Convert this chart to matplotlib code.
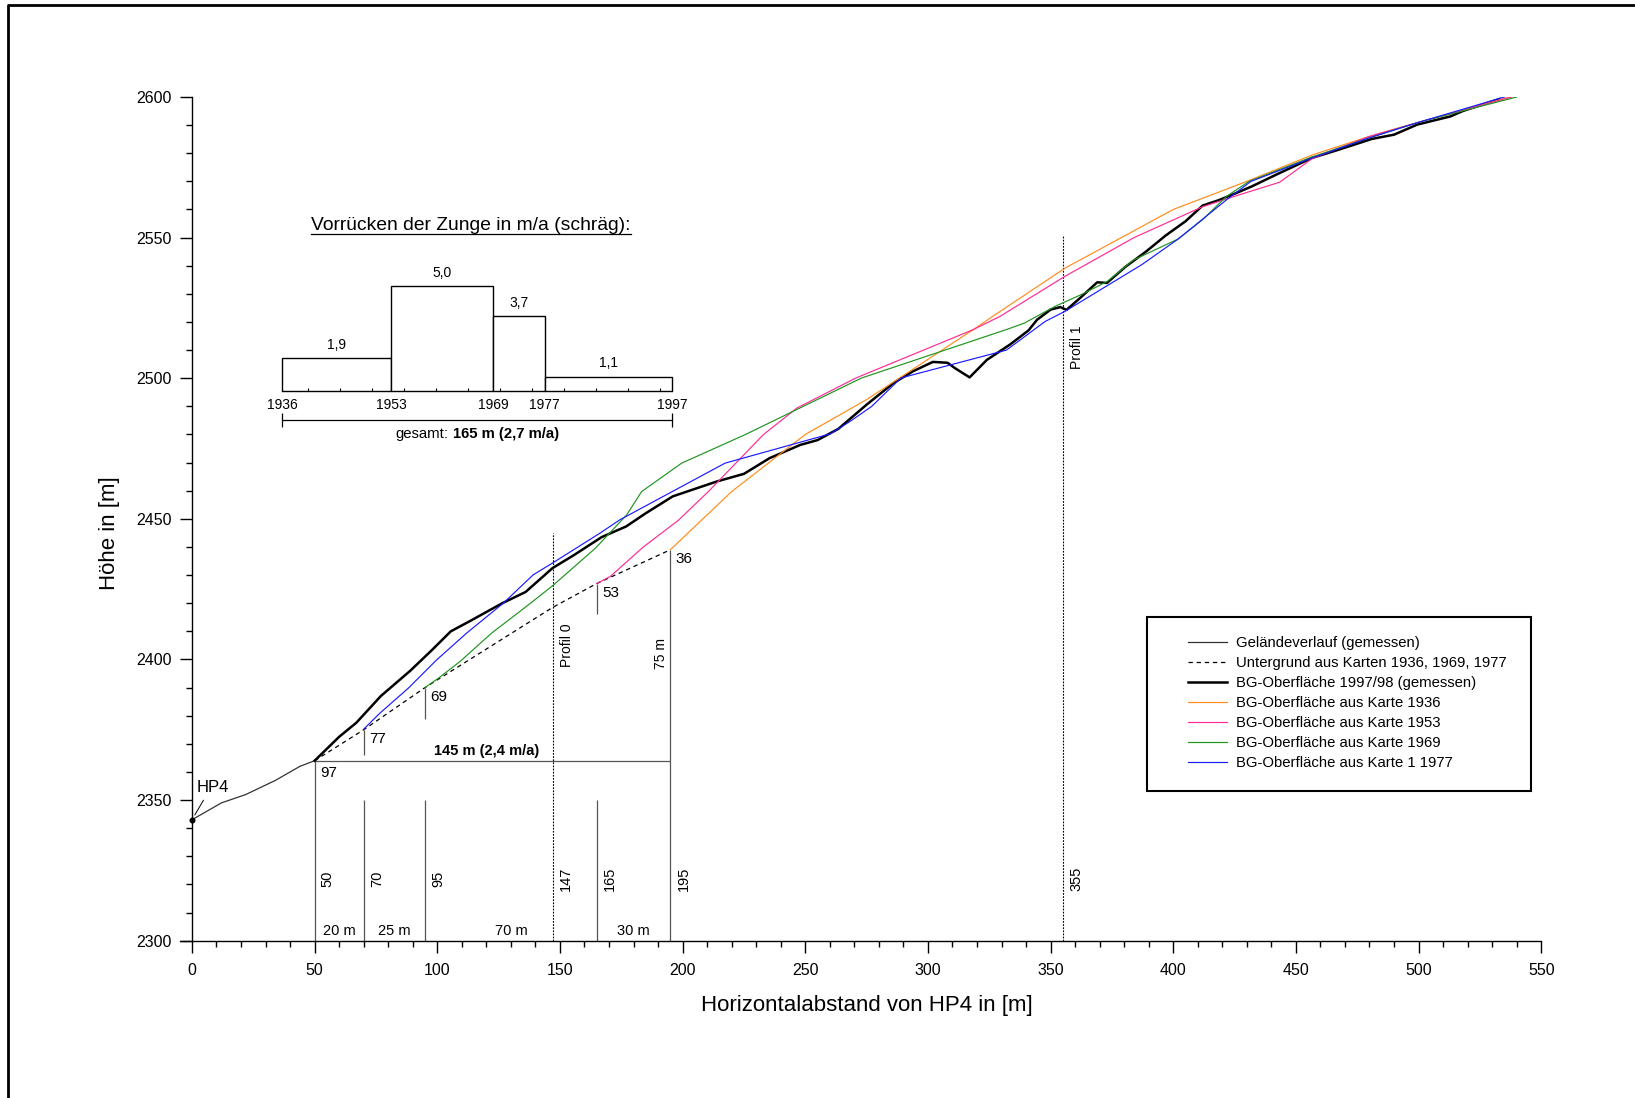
import matplotlib
matplotlib.use("Agg")
import numpy as np
import matplotlib.pyplot as plt
from matplotlib.lines import Line2D
from matplotlib.patches import Rectangle
from matplotlib.ticker import MultipleLocator
from matplotlib.transforms import offset_copy

plt.rcParams['font.family'] = ['Liberation Sans', 'DejaVu Sans']

## Geländeverlauf HP4 bis Zungenende (gemessen)
gelaende_x = [0, 12, 22, 34, 44, 50]
gelaende_y = [2343, 2349, 2352, 2357, 2362, 2364]

## Untergrund aus Karten 1936, 1969, 1977
untergrund_x = [50, 70, 95, 147, 165, 195]
untergrund_y = [2364, 2375, 2390, 2418.5, 2427, 2439]

## BG-Oberfläche 1997/98 (gemessen)
bg97_x = [50, 60, 67, 77, 89, 98, 105.5, 113, 126.5, 136, 147, 155.5, 167, 177, 185, 196,
          214, 225, 235.5, 248, 255, 263.5, 275, 286, 294, 302, 308, 311, 317, 324, 333.5,
          341, 344.5, 350, 354, 356.5, 362, 369, 373, 380.5, 389, 397, 405, 412, 418.5,
          425, 432, 442, 456.5, 466.5, 481, 490, 499.5, 513, 518, 533]
bg97_y = [2364, 2372.5, 2377.5, 2387, 2396, 2403.5, 2410, 2413.5, 2420, 2424, 2432.5, 2437,
          2443.5, 2447.3, 2452, 2458, 2463.3, 2466, 2471.6, 2476.3, 2478, 2482, 2490.6,
          2498.3, 2502.5, 2505.8, 2505.5, 2503.6, 2500.3, 2506.5, 2512, 2517, 2520.8,
          2524.4, 2525.3, 2524.3, 2528.5, 2534.1, 2533.9, 2539.6, 2545.1, 2550.8, 2555.8,
          2561.4, 2563.3, 2565.6, 2568.2, 2572.4, 2578.3, 2581, 2585.1, 2586.6, 2590.2,
          2593.1, 2595, 2599.3]

## BG-Oberflächen aus den Karten
k1936_x = [195, 220, 250, 275, 318.5, 329.5, 356, 400, 430, 457, 480, 500, 537]
k1936_y = [2439, 2459.7, 2480, 2492.4, 2517.3, 2523.8, 2539.2, 2560, 2570, 2579.5, 2586,
           2591, 2600]

k1953_x = [165, 170.5, 184, 198.3, 210.5, 233, 246.6, 270.7, 318.5, 329.4, 355.8, 384, 412,
           425, 443.4, 456.5, 462, 480, 500, 538]
k1953_y = [2427, 2429.5, 2440, 2449.5, 2459.7, 2480, 2489.4, 2500.1, 2517.3, 2522, 2536.2,
           2550, 2561, 2564.7, 2569.7, 2578, 2580, 2586, 2591, 2600]

k1969_x = [95, 100.4, 109.3, 122.2, 138, 147, 164.5, 177.2, 183.3, 199.6, 225.4, 273, 332,
           339.3, 351.7, 362.4, 373.1, 383.9, 402, 412, 421.8, 430.9, 456, 480, 500, 540]
k1969_y = [2390, 2393.3, 2399.3, 2409.4, 2420, 2426.2, 2439.6, 2451.4, 2459.7, 2469.8,
           2479.9, 2500.1, 2517.3, 2519.6, 2525.5, 2529.7, 2534.4, 2542.1, 2549.5, 2556.4,
           2564.7, 2570, 2578.5, 2585.5, 2591, 2600]

k1977_x = [70, 76.6, 88.2, 99.8, 112, 126.9, 139.1, 147, 166.3, 174.5, 217.3, 260.1, 268.2,
           277.1, 289, 332, 347.8, 355.9, 387.2, 402, 421.8, 431.7, 456.5, 480, 500, 535]
k1977_y = [2375.2, 2380.9, 2389.8, 2399.9, 2409.4, 2420, 2430.1, 2434.3, 2444.9, 2449.7,
           2469.8, 2480.2, 2484.6, 2490, 2500.1, 2510, 2520.2, 2523.8, 2540.4, 2549.5,
           2563.5, 2570, 2578.3, 2585.5, 2591, 2600]

## Zungenenden (Jahr) und Messpunkte
zunge_x = [50, 70, 95, 165, 195]
zunge_h = [2364, 2375, 2390, 2427, 2439]
zunge_jahr = ['97', '77', '69', '53', '36']
zunge_marke_unten = [None, 2366, 2379, 2416, None]
mess_oben = [2364, 2350, 2350, 2350, 2439]

profil_x = [147, 355]
profil_oben = [2445, 2551]
profil_name = ['Profil 0', 'Profil 1']
profil_name_y = [2405, 2511]

## Vorrücken der Zunge in m/a (schräg)
zeit_grenzen = [1936, 1953, 1969, 1977, 1997]
vorruecken = [1.9, 5.0, 3.7, 1.1]
gesamt_m = 165

W, H = 1635, 1098
fig = plt.figure(figsize=(W / 100, H / 100), dpi=100)
fig.patch.set_facecolor('white')

ax = fig.add_axes([179.7 / W, 1 - 940.7 / H, 1361.5 / W, 843.7 / H])
ax.set_xlim(-5, 550)
ax.set_ylim(2300, 2600)
for s in ['top', 'right']:
    ax.spines[s].set_visible(False)
ax.spines['left'].set_position(('data', 0))
ax.spines['left'].set_linewidth(1.0)
ax.spines['bottom'].set_linewidth(1.0)
ax.xaxis.set_major_locator(MultipleLocator(50))
ax.xaxis.set_minor_locator(MultipleLocator(10))
ax.yaxis.set_major_locator(MultipleLocator(50))
ax.yaxis.set_minor_locator(MultipleLocator(10))
ax.tick_params(which='major', length=8.6, width=1, labelsize=11.5, pad=6, direction='out')
ax.tick_params(axis='x', which='major', pad=7.2)
ax.tick_params(which='minor', length=4.5, width=1, direction='out')
ax.set_xlabel('Horizontalabstand von HP4 in [m]', fontsize=16)
ax.set_ylabel('Höhe in [m]', fontsize=16)
ax.xaxis.set_label_coords(0.5045, -0.064)
ax.yaxis.set_label_coords(-0.044, 0.483)

grau = '#555555'

# Messlinien unten und Zungenmarken
ax.vlines(zunge_x, 2300, mess_oben, color=grau, lw=0.9)
for x, u, h in zip(zunge_x, zunge_marke_unten, zunge_h):
    if u is not None:
        ax.vlines(x, u, h, color=grau, lw=0.9)
for x in zunge_x:
    ax.annotate(str(x), xy=(x, 2322), xytext=(4.5, 0), textcoords='offset points',
                rotation=90, ha='left', va='center', fontsize=10.5)
for i, (x, h, j) in enumerate(zip(zunge_x, zunge_h, zunge_jahr)):
    dy = -4 if i == 0 else -1.5
    ax.annotate(j, xy=(x, h), xytext=(4, dy), textcoords='offset points',
                ha='left', va='top', fontsize=11)

# Abstände zwischen den Messlinien
for a, b in zip(zunge_x[:-1], zunge_x[1:]):
    ax.annotate(f'{b - a} m', xy=((a + b) / 2, 2300), xytext=(0, 4),
                textcoords='offset points', ha='center', va='baseline', fontsize=10.5)

# Gesamtvorstoß 1936-1997
ax.hlines(zunge_h[0], zunge_x[0], zunge_x[-1], color=grau, lw=0.9)
dist = zunge_x[-1] - zunge_x[0]
rate = dist / (zeit_grenzen[-1] - zeit_grenzen[0])
ax.annotate(f'{dist} m ({rate:.1f} m/a)'.replace('.', ','),
            xy=((zunge_x[0] + zunge_x[-1]) / 2, zunge_h[0]), xytext=(-4, 2),
            textcoords='offset points', ha='center', va='bottom', fontsize=10.5,
            weight='bold')
ax.annotate(f'{zunge_h[-1] - zunge_h[0]} m', xy=(zunge_x[-1], 2402), xytext=(-2, 0),
            textcoords='offset points', rotation=90, ha='right', va='center', fontsize=10)

# Profillinien
ax.vlines(profil_x, 2300, profil_oben, color='black', lw=0.8, linestyles=(0, (1.6, 1.2)))
for x, n, y in zip(profil_x, profil_name, profil_name_y):
    ax.annotate(n, xy=(x, y), xytext=(5, 0), textcoords='offset points', rotation=90,
                ha='left', va='center', fontsize=10)
    ax.annotate(str(x), xy=(x, 2322), xytext=(4.5, 0), textcoords='offset points',
                rotation=90, ha='left', va='center', fontsize=10.5)

# Profilkurven
h1, = ax.plot(gelaende_x, gelaende_y, color='#333333', lw=0.9,
              label='Geländeverlauf (gemessen)')
h2, = ax.plot(untergrund_x, untergrund_y, color='black', lw=0.9, ls=(0, (3.5, 3)),
              label='Untergrund aus Karten 1936, 1969, 1977')
h3, = ax.plot(bg97_x, bg97_y, color='black', lw=1.8,
              label='BG-Oberfläche 1997/98 (gemessen)')
h4, = ax.plot(k1936_x, k1936_y, color='#ff8c1a', lw=0.85, label='BG-Oberfläche aus Karte 1936')
h5, = ax.plot(k1953_x, k1953_y, color='#ff2a95', lw=0.85, label='BG-Oberfläche aus Karte 1953')
h6, = ax.plot(k1969_x, k1969_y, color='#1f941f', lw=0.85, label='BG-Oberfläche aus Karte 1969')
h7, = ax.plot(k1977_x, k1977_y, color='#1a1aff', lw=0.85, label='BG-Oberfläche aus Karte 1 1977')

# Ausgangspunkt HP4
ax.plot(gelaende_x[0], gelaende_y[0], 'o', color='black', ms=3.3, clip_on=False)
ax.annotate('HP4', xy=(gelaende_x[0], gelaende_y[0]), xytext=(3.5, 20),
            textcoords='offset points', ha='left', va='baseline', fontsize=12,
            arrowprops=dict(arrowstyle='-', color='black', lw=0.7, relpos=(0.3, 0),
                            shrinkA=2, shrinkB=4))

leg = ax.legend(handles=[h1, h2, h3, h4, h5, h6, h7], loc='upper left',
                bbox_to_anchor=(1187.7 / W, 1 - 636.4 / H), bbox_transform=fig.transFigure,
                frameon=False, borderpad=0, borderaxespad=0, fontsize=10.7,
                handlelength=2.66, handletextpad=0.59, labelspacing=0.40)
fig.add_artist(Rectangle((1147.3 / W, 1 - 790.7 / H), 383.4 / W, 173.4 / H,
                         transform=fig.transFigure, fill=False, lw=1.5, ec='black'))

# Balken: Vorrücken der Zunge
px_jahr = 390 / 61
ax2 = fig.add_axes([(282.4 - px_jahr) / W, 1 - 390.7 / H, 63 * px_jahr / W, 5 * 23.26 / H])
ax2.set_xlim(1935, 1998)
ax2.set_ylim(0.5, 5.5)
ax2.patch.set_alpha(0)
ax2.bar(zeit_grenzen[:-1], vorruecken, width=np.diff(zeit_grenzen), align='edge',
        facecolor='white', edgecolor='black', lw=1.0)
for a, b, v in zip(zeit_grenzen[:-1], zeit_grenzen[1:], vorruecken):
    ax2.annotate(f'{v:.1f}'.replace('.', ','), xy=((a + b) / 2, v), xytext=(0, 4.5),
                 textcoords='offset points', ha='center', va='bottom', fontsize=10)
for s in ['top', 'right', 'left']:
    ax2.spines[s].set_visible(False)
ax2.spines['bottom'].set_bounds(zeit_grenzen[0], zeit_grenzen[-1])
ax2.spines['bottom'].set_linewidth(1.0)
ax2.set_yticks([])
ax2.set_xticks(zeit_grenzen)
ax2.set_xticks(np.arange(1940, 1996, 5), minor=True)
ax2.tick_params(axis='x', which='major', length=0, pad=5.5, labelsize=10)
ax2.tick_params(axis='x', which='minor', length=2.2, width=0.8, direction='in')

ax2.plot([zeit_grenzen[0], zeit_grenzen[-1]], [-0.74, -0.74], color='black', lw=0.9,
         marker='|', ms=10, mew=0.9, clip_on=False)

fig.canvas.draw()
rend = fig.canvas.get_renderer()
fs_g = 10.7
mitte = (zeit_grenzen[0] + zeit_grenzen[-1]) / 2
t1 = ax2.text(mitte, -1.36, 'gesamt:', ha='left', va='center', fontsize=fs_g)
t2 = ax2.text(mitte, -1.36,
              f'{gesamt_m} m ({gesamt_m / (zeit_grenzen[-1] - zeit_grenzen[0]):.1f} m/a)'.replace('.', ','),
              ha='left', va='center', fontsize=fs_g, weight='bold')
w1 = t1.get_window_extent(rend).width
w2 = t2.get_window_extent(rend).width
gap = 0.28 * fs_g * fig.dpi / 72
total = w1 + gap + w2
t1.set_transform(offset_copy(ax2.transData, fig=fig, x=-total / 2, y=0, units='dots'))
t2.set_transform(offset_copy(ax2.transData, fig=fig, x=-total / 2 + w1 + gap, y=0, units='dots'))
for t in (t1, t2):
    t.set_clip_on(False)

titel = fig.text(471 / W, 1 - 229.5 / H, 'Vorrücken der Zunge in m/a (schräg):',
                 ha='center', va='baseline', fontsize=13.9)
fig.canvas.draw()
bb = titel.get_window_extent(rend)
uy = 1 - 233.5 / H
fig.add_artist(Line2D([bb.x0 / W, bb.x1 / W], [uy, uy], transform=fig.transFigure,
                      color='black', lw=0.9))

# Rahmen oben und links
fig.add_artist(Line2D([8.2 / W, 8.2 / W, 1], [0, 1 - 4.7 / H, 1 - 4.7 / H],
                      transform=fig.transFigure, color='black', lw=2))

fig.savefig('out.png', dpi=100, facecolor='white')
